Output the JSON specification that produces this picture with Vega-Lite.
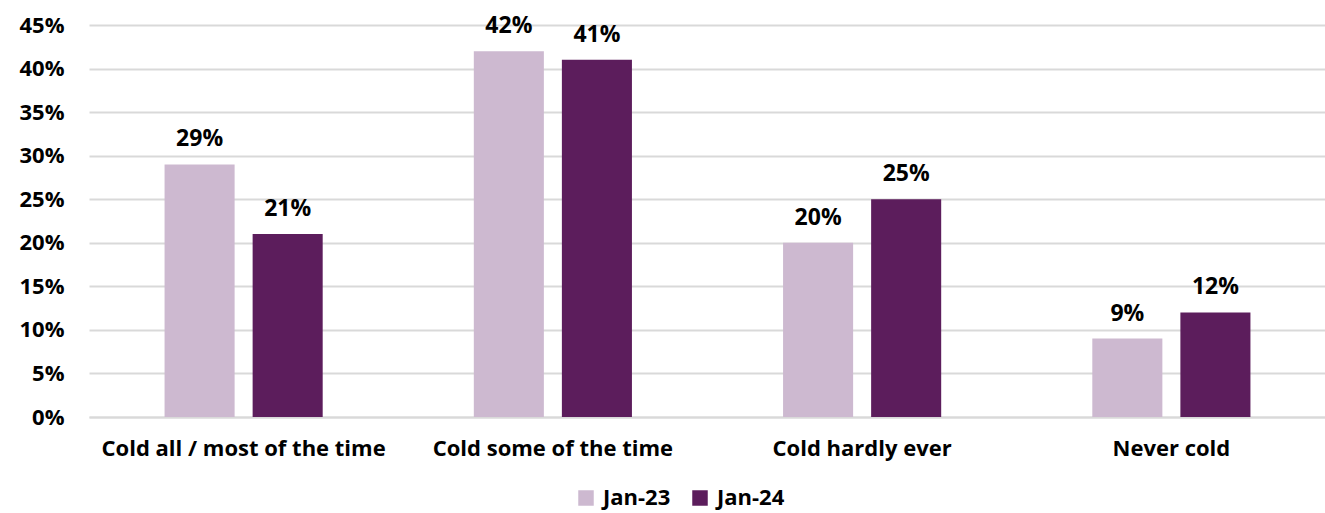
{
  "$schema": "https://vega.github.io/schema/vega-lite/v6.json",
  "autosize": {"type": "none"},
  "width": 1237,
  "height": 392,
  "padding": {"left": 89, "top": 25, "right": 0, "bottom": 96},
  "background": "white",
  "config": {
    "view": {"stroke": null},
    "font": "Open Sans",
    "axis": {"labelFont": "Open Sans", "labelFontWeight": "bold", "labelColor": "#000000"},
    "legend": {"labelFont": "Open Sans", "labelFontWeight": "bold"}
  },
  "data": {
    "values": [
      {"category": "Cold all / most of the time", "period": "Jan-23", "share": 0.29},
      {"category": "Cold all / most of the time", "period": "Jan-24", "share": 0.21},
      {"category": "Cold some of the time", "period": "Jan-23", "share": 0.42},
      {"category": "Cold some of the time", "period": "Jan-24", "share": 0.41},
      {"category": "Cold hardly ever", "period": "Jan-23", "share": 0.20},
      {"category": "Cold hardly ever", "period": "Jan-24", "share": 0.25},
      {"category": "Never cold", "period": "Jan-23", "share": 0.09},
      {"category": "Never cold", "period": "Jan-24", "share": 0.12}
    ]
  },
  "encoding": {
    "x": {
      "field": "category",
      "type": "nominal",
      "sort": null,
      "title": null,
      "scale": {"paddingInner": 0, "paddingOuter": 0},
      "axis": {
        "labelAngle": 0,
        "labelFontSize": 22,
        "labelLimit": 0,
        "labelPadding": 21,
        "ticks": false,
        "domainColor": "#D9D9D9",
        "domainWidth": 2
      }
    },
    "xOffset": {
      "field": "period",
      "type": "nominal",
      "scale": {"paddingInner": 0.2045, "paddingOuter": 0.858}
    },
    "y": {
      "field": "share",
      "type": "quantitative",
      "title": null,
      "scale": {"domain": [0, 0.45], "nice": false},
      "axis": {
        "values": [0, 0.05, 0.1, 0.15, 0.2, 0.25, 0.3, 0.35, 0.4, 0.45],
        "format": ".0%",
        "labelFontSize": 22,
        "labelPadding": 25,
        "ticks": false,
        "domain": false,
        "gridColor": "#D9D9D9",
        "gridWidth": 2
      }
    }
  },
  "layer": [
    {
      "mark": {"type": "bar"},
      "encoding": {
        "color": {
          "field": "period",
          "type": "nominal",
          "title": null,
          "scale": {"domain": ["Jan-23", "Jan-24"], "range": ["#CDB9D0", "#5C1D5C"]},
          "legend": {
            "orient": "none",
            "legendX": 486,
            "legendY": 462,
            "direction": "horizontal",
            "symbolType": "square",
            "symbolSize": 240,
            "symbolStrokeWidth": 0,
            "symbolOpacity": 1,
            "labelFontSize": 22,
            "labelColor": "#000000",
            "labelOffset": 6,
            "columnPadding": 18
          }
        }
      }
    },
    {
      "mark": {"type": "text", "baseline": "alphabetic", "dy": -18, "fontSize": 23, "fontWeight": "bold", "font": "Open Sans", "color": "#000000"},
      "encoding": {
        "text": {"field": "share", "type": "quantitative", "format": ".0%"}
      }
    }
  ]
}
